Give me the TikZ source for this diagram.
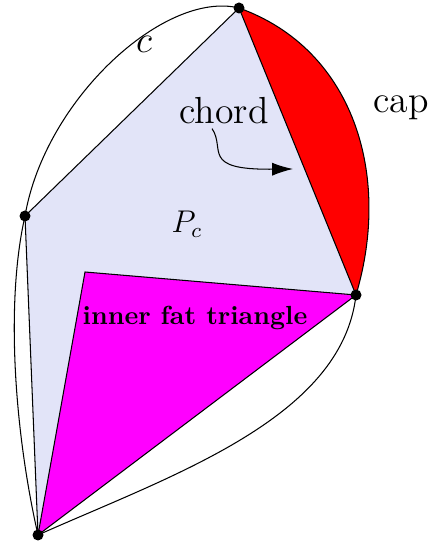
\documentclass[tikz,border=0pt]{standalone}
\usepackage{amsmath}
\usepackage{xcolor}
\usepackage{tikz}
\usetikzlibrary{arrows.meta}
\definecolor{polyfill}{RGB}{226,228,248}
\definecolor{innerfill}{RGB}{255,0,255}
\definecolor{capfill}{RGB}{255,0,0}

\begin{document}
\begin{tikzpicture}[x=0.382pt,y=0.382pt,>={Latex[length=8pt,width=5pt]}]
        \useasboundingbox (0,0) rectangle (428,544);
        % 顶点
        \coordinate (T) at (239,536);
        \coordinate (L) at (25,328);
        \coordinate (R) at (356,249);
        \coordinate (B) at (38,9);
        \coordinate (I) at (85,272);
        % 多边形 P_c
        \fill [polyfill] (T) -- (L) -- (B) -- (I) -- (R) -- cycle;
        % 内部三角形
        \draw [fill=innerfill] (I) -- (R) -- (B) -- cycle;
        % cap
        \draw [fill=capfill] (T) .. controls (353,495) and (392,370) .. (R) -- cycle;
        % 曲线 c
        \draw (R) .. controls (342,125) and (170,68) .. (B)
              .. controls (15,110) and (5,240) .. (L)
              .. controls (45,445) and (165,554) .. (T);
        \draw (T) -- (L) -- (B);
        % 顶点标记
        \foreach \p in {T,L,R,B}
            \fill (\p) circle (5.5);
        % 标注
        \node [anchor=base] (clabel) at (144,491) {\Large $c$};
        \node [anchor=base] (cap) at (401,431) {\Large cap};
        \node [anchor=base] (pc) at (187,311) {\large $P_c$};
        \node [anchor=base] (inner) at (195,219) {\bfseries inner fat triangle};
        \node [anchor=base] (chord) at (224,420) {\Large chord};
        \coordinate (chordtip) at (293,375);
        \draw [->] ([shift={(-12,5)}]chord.south) .. controls (226,395) and (200,374) .. (chordtip);
\end{tikzpicture}
\end{document}
